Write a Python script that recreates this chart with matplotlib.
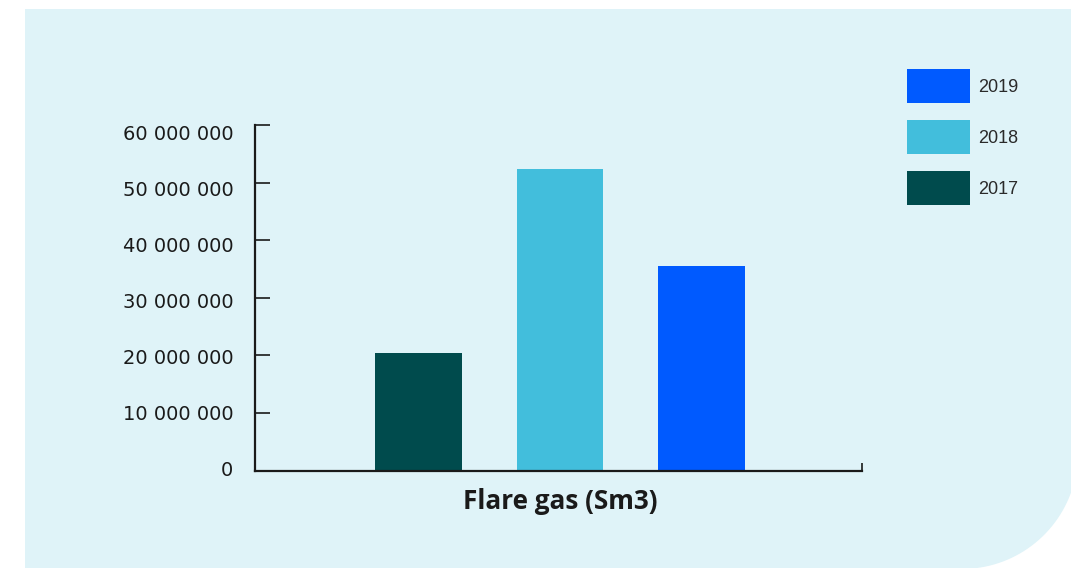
import numpy as np
import matplotlib
matplotlib.use("Agg")
import matplotlib.pyplot as plt
from matplotlib.path import Path
from matplotlib.patches import PathPatch, Patch

# --- data -------------------------------------------------------------
category = "Flare gas (Sm3)"
years = ["2017", "2018", "2019"]
values = [20_400_000, 52_400_000, 35_600_000]
colors = ["#004b4d", "#42bedc", "#005aff"]
y_ticks = [0, 10_000_000, 20_000_000, 30_000_000, 40_000_000, 50_000_000, 60_000_000]
y_ticklabels = ["0", "10 000 000", "20 000 000", "30 000 000",
                "40 000 000", "50 000 000", "60 000 000"]

W, H = 1071, 568
fig = plt.figure(figsize=(W / 100, H / 100), dpi=100, facecolor="white")

# --- light panel with a rounded lower-right corner -------------------
def px(x, y):
    return (x / W, 1 - y / H)

cx, cy, r = 962, 453, 116
ang = np.linspace(0, np.pi / 2, 40)
verts = [px(25, 9), px(1078, 9), px(1078, cy)]
verts += [px(cx + r * np.cos(a), cy + r * np.sin(a)) for a in ang]
verts += [px(25, cy + r), px(25, 9)]
codes = [Path.MOVETO] + [Path.LINETO] * (len(verts) - 2) + [Path.CLOSEPOLY]
panel = PathPatch(Path(verts, codes), transform=fig.transFigure,
                  facecolor="#dff3f8", edgecolor="none", zorder=-10)
fig.patches.append(panel)

ink = "#1a1a1a"

# --- main axes: bars, spines and tick marks --------------------------
left, right = 255 / W, 862 / W
bottom, top = 1 - 470.7 / H, 1 - 125 / H
ax = fig.add_axes([left, bottom, right - left, top - bottom])
ax.set_facecolor("none")

offsets = np.arange(len(years)) - (len(years) - 1) / 2
for off, yr, v, c in zip(offsets, years, values, colors):
    ax.bar(off, v, width=0.61, color=c, label=yr, zorder=1)

xmin, xmax = -2.155, 2.134
ax.set_xlim(xmin, xmax)
ax.set_ylim(0, 60_000_000)

for side in ("top", "right"):
    ax.spines[side].set_visible(False)
for side in ("left", "bottom"):
    ax.spines[side].set_linewidth(1.6)
    ax.spines[side].set_color(ink)
    ax.spines[side].set_zorder(3)

ax.set_yticks(y_ticks)
ax.set_yticklabels([])
ax.tick_params(axis="y", direction="in", length=10.8, width=1.2, color=ink)

ax.set_xticks([0])
ax.set_xticklabels([category], fontsize=18.8, fontweight="bold",
                   family=["Open Sans", "DejaVu Sans"], color=ink)
ax.tick_params(axis="x", which="major", length=0, pad=12.5)
ax.set_xticks([xmin, xmax], minor=True)
ax.tick_params(axis="x", which="minor", direction="in", length=5.8,
               width=1.2, color=ink)

# --- value labels on the y scale -------------------------------------
lab_bottom, lab_top = 1 - 469 / H, 1 - 133 / H
axl = fig.add_axes([left, lab_bottom, right - left, lab_top - lab_bottom])
axl.set_facecolor("none")
for s in axl.spines.values():
    s.set_visible(False)
axl.set_ylim(0, 60_000_000)
axl.set_xticks([])
axl.set_yticks(y_ticks)
axl.set_yticklabels(y_ticklabels, fontsize=14, color=ink, family="DejaVu Sans")
axl.tick_params(axis="y", length=0, pad=15.5)

# --- legend ------------------------------------------------------------
handles = [Patch(facecolor=c, edgecolor="none") for c in colors][::-1]
labels = years[::-1]
fig.legend(handles, labels, loc="upper left",
           bbox_to_anchor=(907 / W, 1 - 69 / H), frameon=False,
           borderpad=0, borderaxespad=0, handlelength=3.5, handleheight=2.55,
           handletextpad=0.42, labelspacing=0.92,
           prop={"family": "Liberation Sans", "size": 13}, labelcolor="#2a2a2a")

fig.savefig("out.png", dpi=100, facecolor="white")
